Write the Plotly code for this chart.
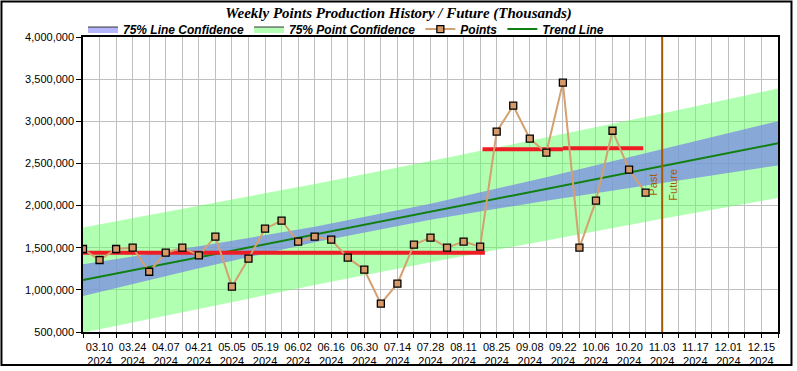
import plotly.graph_objects as go

# ---------------- data ----------------
week_dates = [
    "2024-03-03", "2024-03-10", "2024-03-17", "2024-03-24", "2024-03-31",
    "2024-04-07", "2024-04-14", "2024-04-21", "2024-04-28", "2024-05-05",
    "2024-05-12", "2024-05-19", "2024-05-26", "2024-06-02", "2024-06-09",
    "2024-06-16", "2024-06-23", "2024-06-30", "2024-07-07", "2024-07-14",
    "2024-07-21", "2024-07-28", "2024-08-04", "2024-08-11", "2024-08-18",
    "2024-08-25", "2024-09-01", "2024-09-08", "2024-09-15", "2024-09-22",
    "2024-09-29", "2024-10-06", "2024-10-13", "2024-10-20", "2024-10-27",
]
points = [
    1485000, 1354000, 1485000, 1500000, 1215000,
    1441000, 1500000, 1410000, 1631000, 1038000,
    1370000, 1726000, 1821000, 1572000, 1631000,
    1595000, 1382000, 1239000, 836000, 1073000,
    1536000, 1619000, 1500000, 1572000, 1512000,
    2877000, 3185000, 2794000, 2627000, 3458000,
    1500000, 2058000, 2888000, 2426000, 2153000,
]

band_dates = ["2024-03-03", "2024-04-21", "2024-06-09", "2024-07-28",
              "2024-09-15", "2024-11-03", "2024-12-22"]
trend_line = [1115800, 1386300, 1656800, 1927400, 2197900, 2468400, 2738900]
line_conf_upper = [1304500, 1517400, 1748000, 2022600, 2337200, 2666900, 3001600]
line_conf_lower = [927100, 1255200, 1565600, 1832200, 2058600, 2269900, 2476200]
point_conf_upper = [1738700, 1993800, 2257200, 2527800, 2807800, 3093700, 3387900]
point_conf_lower = [492900, 778800, 1056400, 1327000, 1588000, 1843100, 2089900]

avg_starts = ["2024-02-29", "2024-08-19", "2024-09-22"]
avg_ends = ["2024-08-20", "2024-09-22", "2024-10-26"]
avg_values = [1440000, 2668000, 2680000]

past_future_date = "2024-11-03"
x_range = ["2024-03-03", "2024-12-22"]
y_range = [500000, 4000000]

title_text = "Weekly Points Production History / Future (Thousands)"

# ---------------- figure ----------------
fig = go.Figure()

GREEN_FILL = "rgba(100,255,100,0.5)"
BLUE_FILL = "rgba(120,134,231,0.72)"

# point confidence band
fig.add_trace(go.Scatter(x=band_dates, y=point_conf_lower, mode="lines",
                         line=dict(width=0), showlegend=False, hoverinfo="skip"))
fig.add_trace(go.Scatter(x=band_dates, y=point_conf_upper, mode="lines",
                         line=dict(width=0), fill="tonexty", fillcolor=GREEN_FILL,
                         showlegend=False, hoverinfo="skip"))
# line confidence band
fig.add_trace(go.Scatter(x=band_dates, y=line_conf_lower, mode="lines",
                         line=dict(width=0), showlegend=False, hoverinfo="skip"))
fig.add_trace(go.Scatter(x=band_dates, y=line_conf_upper, mode="lines",
                         line=dict(width=0), fill="tonexty", fillcolor=BLUE_FILL,
                         showlegend=False, hoverinfo="skip"))

# legend-only entries for bands
fig.add_trace(go.Scatter(x=[None], y=[None], mode="lines", fill="toself",
                         fillcolor="#b4b4ff", line=dict(color="#333333", width=1),
                         name="75% Line Confidence", legendrank=1))
fig.add_trace(go.Scatter(x=[None], y=[None], mode="lines", fill="toself",
                         fillcolor="#b4ffb4", line=dict(color="#333333", width=1),
                         name="75% Point Confidence", legendrank=2))

# trend line
fig.add_trace(go.Scatter(x=band_dates, y=trend_line, mode="lines",
                         line=dict(color="#108010", width=2),
                         name="Trend Line", legendrank=4))

# average segments (red)
seg_x, seg_y = [], []
for s, e, v in zip(avg_starts, avg_ends, avg_values):
    seg_x += [s, e, None]
    seg_y += [v, v, None]
fig.add_trace(go.Scatter(x=seg_x, y=seg_y, mode="lines",
                         line=dict(color="#ee1c25", width=4),
                         showlegend=False, hoverinfo="skip"))

# points
fig.add_trace(go.Scatter(x=week_dates, y=points, mode="lines+markers",
                         line=dict(color="#d4a070", width=2),
                         marker=dict(symbol="square", size=7, color="#d69a68",
                                     line=dict(color="#000000", width=1.3)),
                         name="Points", legendrank=3))

# past/future divider
fig.add_shape(type="line", xref="x", yref="paper", x0=past_future_date,
              x1=past_future_date, y0=0, y1=1,
              line=dict(color="#a65a00", width=2), layer="above")
fig.add_annotation(x=past_future_date, y=0.5, xref="x", yref="paper",
                   text="Past", textangle=-90, showarrow=False,
                   xanchor="right", yanchor="middle", xshift=-2,
                   font=dict(family="Liberation Sans, Arial", size=11, color="#a65a00"))
fig.add_annotation(x=past_future_date, y=0.5, xref="x", yref="paper",
                   text="Future", textangle=-90, showarrow=False,
                   xanchor="left", yanchor="middle", xshift=2,
                   font=dict(family="Liberation Sans, Arial", size=11, color="#a65a00"))

# outer border
fig.add_shape(type="rect", xref="paper", yref="paper",
              x0=-0.1173, x1=1.0194, y0=-0.1119, y1=1.1203,
              line=dict(color="#000000", width=2), layer="above")

WEEK_MS = 7 * 24 * 3600 * 1000
fig.update_layout(
    width=797, height=371,
    margin=dict(l=83, r=19, t=37, b=39, autoexpand=False),
    paper_bgcolor="white", plot_bgcolor="white",
    font=dict(family="Liberation Sans, Arial", size=11, color="#000000"),
    title=dict(text=title_text, x=0.5, xref="container", xanchor="center",
               y=1 - 13 / 371, yref="container", yanchor="middle",
               font=dict(family="Liberation Serif, Times New Roman", size=15,
                         weight="bold", style="italic", color="#000000")),
    legend=dict(orientation="h", x=0.0, xanchor="left", y=1.027, yanchor="middle",
                yref="paper", bgcolor="rgba(0,0,0,0)",
                font=dict(family="Liberation Sans, Arial", size=12,
                          weight="bold", style="italic", color="#000000"),
                itemwidth=30, traceorder="normal"),
    showlegend=True,
)

fig.update_xaxes(
    type="date", range=x_range, automargin=False,
    tick0="2024-03-10", dtick=2 * WEEK_MS, tickformat="%m.%d<br>%Y",
    showgrid=True, gridcolor="#c0c0c0", gridwidth=1,
    ticks="outside", ticklen=4, tickcolor="#000000",
    minor=dict(tick0="2024-03-03", dtick=WEEK_MS, showgrid=True,
               gridcolor="#c0c0c0", gridwidth=1, ticks="outside", ticklen=4,
               tickcolor="#000000"),
    showline=True, linecolor="#000000", linewidth=1.5, mirror=True,
    zeroline=False, tickfont=dict(size=11),
)
fig.update_yaxes(
    range=y_range, dtick=500000, tickformat=",d", automargin=False,
    showgrid=True, gridcolor="#c0c0c0", gridwidth=1,
    ticks="outside", ticklen=5, tickcolor="#000000",
    showline=True, linecolor="#000000", linewidth=1.5, mirror=True,
    zeroline=False, tickfont=dict(size=11),
)

fig.write_html("out.html",
               config={"displayModeBar": False},
               post_script="document.body.style.margin='0';document.body.style.overflow='hidden';")
